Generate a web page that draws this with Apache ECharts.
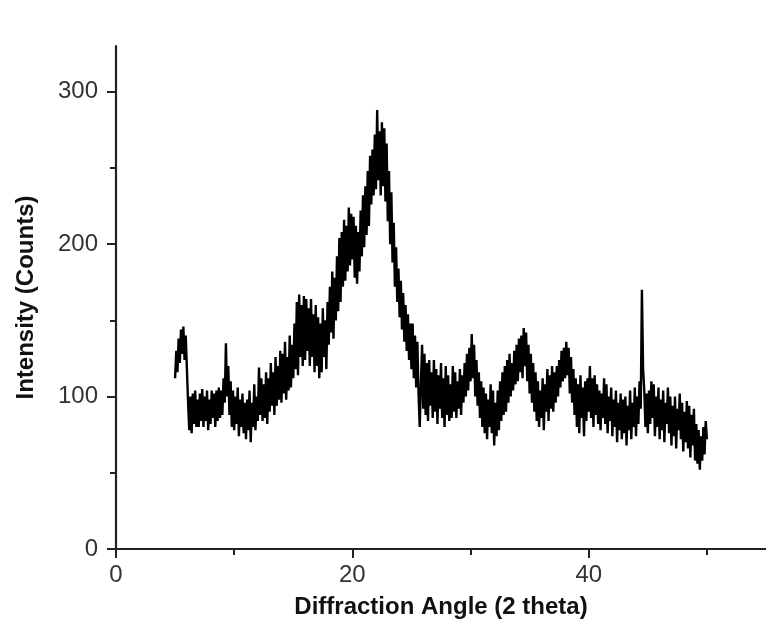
<!DOCTYPE html>
<html>
<head>
<meta charset="utf-8">
<title>XRD pattern</title>
<script src="https://cdn.jsdelivr.net/npm/echarts@6/dist/echarts.min.js"></script>
<style>
  html, body { margin: 0; padding: 0; background: #ffffff; }
  #chart { width: 766px; height: 626px; }
</style>
</head>
<body>
<div id="chart"></div>
<script>
// scan starts at 5.0 deg, one reading every 0.1 deg
const startAngle = 5.0;
const stepAngle = 0.1;

// intensity, 5.0 - 50.0 deg
const counts05to14 = [
  112, 130, 116, 138, 122, 144, 128, 146, 124, 140,
  118, 96, 78, 100, 76, 102, 82, 104, 80, 98,
  80, 102, 84, 105, 80, 100, 84, 104, 78, 98,
  82, 104, 86, 102, 80, 104, 84, 106, 86, 104,
  88, 112, 96, 135, 100, 120, 88, 110, 80, 104,
  78, 100, 82, 106, 74, 98, 80, 102, 76, 96,
  72, 98, 78, 104, 70, 96, 80, 108, 78, 100,
  84, 119, 88, 112, 84, 108, 86, 116, 82, 112,
  90, 122, 94, 116, 88, 126, 94, 120, 98, 130
];
const counts14to23 = [
  96, 128, 102, 136, 98, 126, 104, 140, 106, 134,
  112, 148, 118, 162, 114, 167, 126, 160, 120, 166,
  124, 164, 130, 158, 120, 164, 126, 154, 116, 160,
  120, 152, 112, 148, 116, 158, 126, 150, 118, 162,
  134, 172, 142, 182, 138, 178, 150, 192, 156, 204,
  162, 208, 172, 216, 176, 212, 182, 224, 186, 220,
  190, 218, 178, 212, 174, 208, 182, 222, 192, 232,
  198, 238, 206, 248, 212, 258, 226, 262, 232, 272,
  236, 288, 242, 274, 232, 280, 238, 276, 228, 266
];
const counts23to32 = [
  215, 248, 200, 234, 188, 214, 172, 198, 162, 184,
  152, 176, 144, 168, 136, 160, 130, 154, 124, 148,
  118, 148, 112, 140, 106, 136, 102, 80, 108, 134,
  92, 128, 88, 122, 84, 124, 94, 116, 86, 124,
  90, 118, 82, 114, 92, 122, 86, 112, 80, 120,
  88, 114, 84, 108, 86, 120, 90, 116, 86, 110,
  92, 118, 88, 114, 96, 122, 100, 128, 104, 132,
  110, 141, 112, 134, 100, 124, 94, 116, 86, 110,
  80, 106, 76, 102, 72, 98, 80, 108, 76, 104
];
const counts32to41 = [
  68, 96, 74, 104, 78, 110, 84, 116, 88, 120,
  90, 124, 96, 128, 100, 122, 104, 130, 108, 134,
  110, 138, 116, 140, 112, 145, 120, 142, 110, 134,
  102, 128, 96, 122, 90, 116, 84, 110, 80, 104,
  86, 112, 78, 108, 90, 118, 84, 114, 92, 120,
  90, 116, 96, 120, 100, 124, 106, 130, 110, 132,
  112, 136, 114, 132, 102, 126, 96, 118, 88, 112,
  80, 108, 76, 114, 86, 106, 74, 110, 84, 112,
  90, 120, 86, 112, 80, 114, 88, 108, 82, 104
];
const counts41to50 = [
  78, 102, 86, 112, 82, 108, 76, 100, 84, 106,
  74, 98, 80, 104, 70, 96, 78, 102, 72, 98,
  76, 100, 68, 94, 78, 104, 72, 96, 80, 106,
  74, 100, 82, 110, 92, 170, 118, 104, 80, 102,
  76, 104, 82, 110, 86, 108, 74, 100, 80, 106,
  72, 98, 78, 104, 70, 96, 82, 106, 76, 100,
  68, 94, 74, 100, 66, 92, 78, 102, 72, 96,
  64, 90, 70, 97, 66, 94, 60, 88, 68, 92,
  58, 82, 56, 78, 52, 74, 58, 80, 62, 84,
  72
];

// tick labels
const xMajorTicks = [0, 20, 40];
const xMinorTicks = [10, 30, 50];
const yMajorTicks = [0, 100, 200, 300];
const yMinorTicks = [50, 150, 250];

const counts = [].concat(counts05to14, counts14to23, counts23to32, counts32to41, counts41to50);
const points = counts.map(function (c, i) {
  return [+(startAngle + i * stepAngle).toFixed(1), c];
});

const chart = echarts.init(document.getElementById('chart'), null, { renderer: 'canvas' });

const axisColor = '#222';
const labelFont = {
  fontFamily: 'Liberation Sans, Arial, sans-serif',
  fontSize: 24,
  color: '#333'
};

const option = {
  animation: false,
  backgroundColor: '#ffffff',
  grid: {
    left: 116,
    right: -7,
    top: 46,
    bottom: 77
  },
  xAxis: [
    {
      type: 'value',
      min: 0,
      max: 55,
      position: 'bottom',
      name: 'Diffraction Angle (2 theta)',
      nameLocation: 'middle',
      nameGap: 46,
      nameTextStyle: {
        fontFamily: 'Liberation Sans, Arial, sans-serif',
        fontSize: 24,
        fontWeight: 'bold',
        color: '#111'
      },
      axisLine: { show: true, lineStyle: { color: axisColor, width: 2.2 } },
      axisTick: { show: true, length: 9, customValues: xMajorTicks, lineStyle: { color: axisColor, width: 2 } },
      axisLabel: Object.assign({ customValues: xMajorTicks, margin: 14 }, labelFont),
      splitLine: { show: false }
    },
    {
      type: 'value',
      min: 0,
      max: 55,
      position: 'bottom',
      axisLine: { show: false },
      axisTick: { show: true, length: 6, customValues: xMinorTicks, lineStyle: { color: axisColor, width: 2 } },
      axisLabel: { show: false },
      splitLine: { show: false }
    }
  ],
  yAxis: [
    {
      type: 'value',
      min: 0,
      max: 330,
      position: 'left',
      name: 'Intensity (Counts)',
      nameLocation: 'middle',
      nameGap: 78,
      nameTextStyle: {
        fontFamily: 'Liberation Sans, Arial, sans-serif',
        fontSize: 24,
        fontWeight: 'bold',
        color: '#111'
      },
      axisLine: { show: true, lineStyle: { color: axisColor, width: 2.2 } },
      axisTick: { show: true, length: 9, customValues: yMajorTicks, lineStyle: { color: axisColor, width: 2 } },
      axisLabel: Object.assign({ customValues: yMajorTicks, margin: 18 }, labelFont),
      splitLine: { show: false }
    },
    {
      type: 'value',
      min: 0,
      max: 330,
      position: 'left',
      axisLine: { show: false },
      axisTick: { show: true, length: 6, customValues: yMinorTicks, lineStyle: { color: axisColor, width: 2 } },
      axisLabel: { show: false },
      splitLine: { show: false }
    }
  ],
  series: [
    {
      type: 'line',
      xAxisIndex: 0,
      yAxisIndex: 0,
      data: points,
      showSymbol: false,
      lineStyle: { color: '#000', width: 2.4 },
      silent: true
    }
  ]
};

option && chart.setOption(option);
</script>
</body>
</html>
